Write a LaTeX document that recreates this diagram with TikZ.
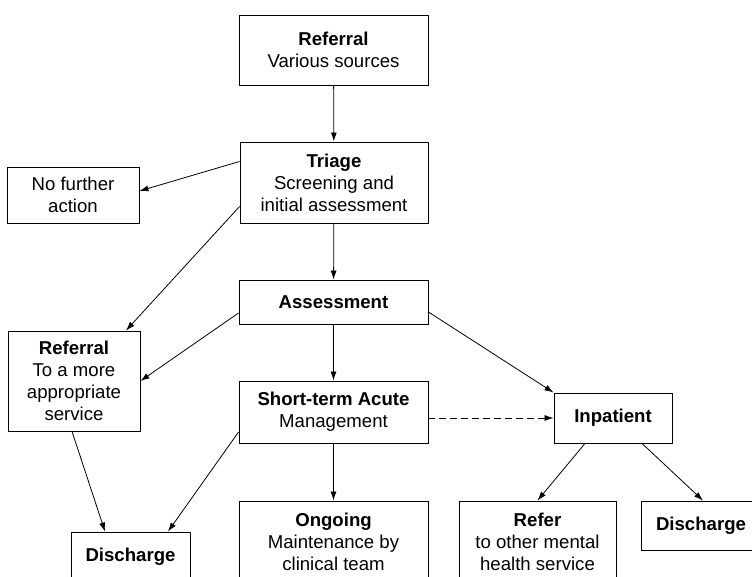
\documentclass[tikz,border=0pt]{standalone}
\usepackage{fontspec}
\setmainfont{Liberation Sans}
\usetikzlibrary{arrows.meta}

\begin{document}
\begin{tikzpicture}[x=1pt,y=-1pt]

\tikzset{box/.style = {shape=rectangle,draw,line width=0.9pt,inner sep=0pt,align=center,font=\fontsize{18.6}{22}\selectfont}}
\tikzset{edge/.style = {->,> = {Latex[length=9pt,width=6pt]},line width=0.8pt}}
\useasboundingbox (0,0) rectangle (752,577);
\clip (0,0) rectangle (752,577);
%boxes
\node[box, minimum width=189pt, minimum height=70pt] (ref) at (333.5,50) {\textbf{Referral}\\Various sources};
\node[box, minimum width=188pt, minimum height=81pt] (triage) at (334,182.5) {\textbf{Triage}\\Screening and\\initial assessment};
\node[box, minimum width=132pt, minimum height=56pt] (nfa) at (73,195) {No further\\action};
\node[box, minimum width=189pt, minimum height=44pt] (assess) at (333.5,302) {\textbf{Assessment}};
\node[box, minimum width=132pt, minimum height=100pt] (refalt) at (74,381) {\textbf{Referral}\\To a more\\appropriate\\service};
\node[box, minimum width=189pt, minimum height=62pt] (acute) at (333.5,412) {\textbf{Short-term Acute}\\Management};
\node[box, minimum width=118pt, minimum height=50pt] (inpat) at (613,418) {\textbf{Inpatient}};
\node[box, minimum width=119pt, minimum height=50pt] (dis1) at (130.5,557) {\textbf{Discharge}};
\node[box, minimum width=189pt, minimum height=82pt] (ongo) at (333.5,542) {\textbf{Ongoing}\\Maintenance by\\clinical team};
\node[box, minimum width=157pt, minimum height=82pt] (refer) at (537.5,542) {\textbf{Refer}\\to other mental\\health service};
\node[box, minimum width=120pt, minimum height=49pt] (dis2) at (701,525.5) {\textbf{Discharge}};
%edges
\draw [edge] (ref) -- (triage);
\draw [edge] ([yshift=21pt]triage.west) -- ([yshift=4pt]nfa.east);
\draw [edge] ([yshift=-24pt]triage.west) -- ([xshift=52pt]refalt.north);
\draw [edge] (triage) -- (assess);
\draw [edge] ([yshift=-11pt]assess.west) -- (refalt.east);
\draw [edge] (assess) -- (acute);
\draw [edge] ([yshift=-10pt]assess.east) -- (inpat.north west);
\draw [edge, dashed, dash pattern=on 7pt off 4pt] ([yshift=-6pt]acute.east) -- (inpat.west);
\draw [edge] ([yshift=-20pt]acute.west) -- ([xshift=37.5pt]dis1.north);
\draw [edge] ([xshift=-2pt]refalt.south) -- ([xshift=-25.5pt]dis1.north);
\draw [edge] (acute) -- (ongo);
\draw [edge] ([xshift=-28pt]inpat.south) -- (refer.north);
\draw [edge] ([xshift=29pt]inpat.south) -- ([xshift=2pt]dis2.north);

\end{tikzpicture}
\end{document}
